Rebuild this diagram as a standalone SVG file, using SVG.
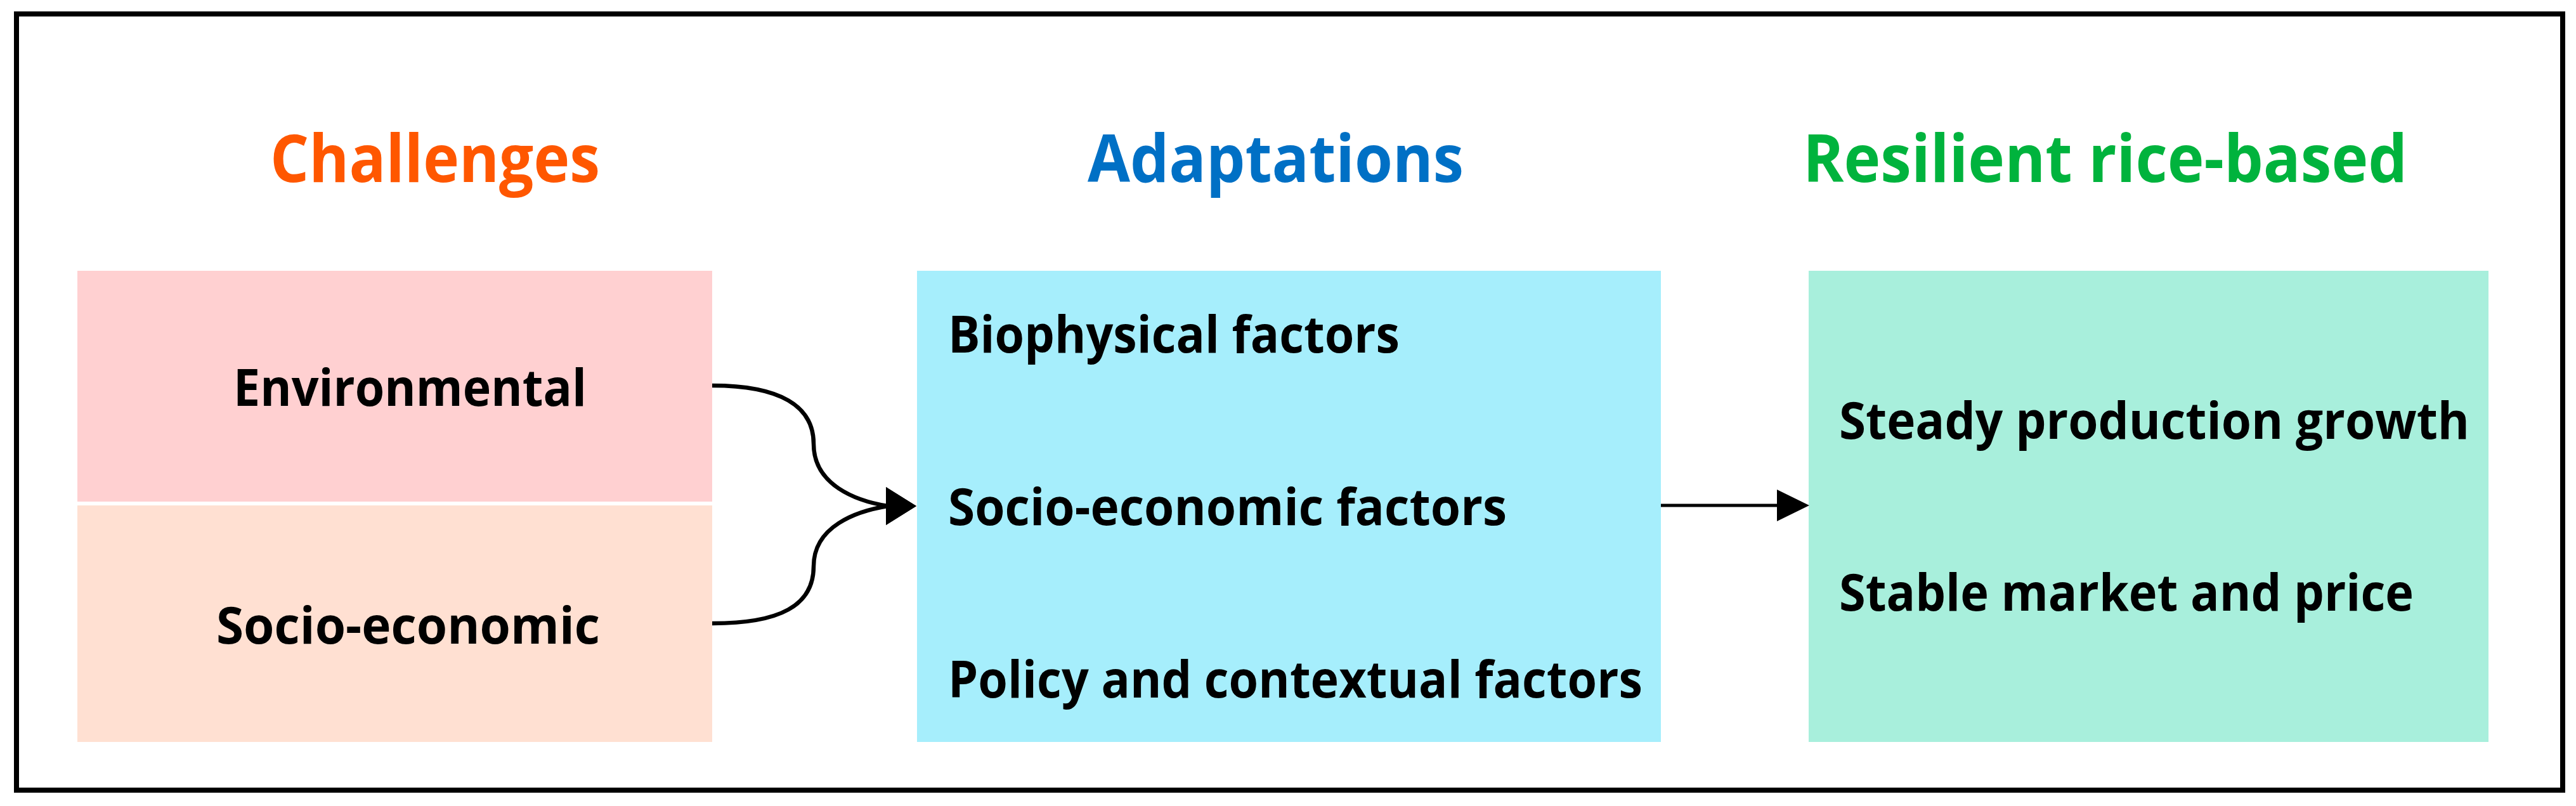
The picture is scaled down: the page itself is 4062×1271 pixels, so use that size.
<svg xmlns="http://www.w3.org/2000/svg" width="4062" height="1271" viewBox="0 0 4062 1271">
<style>
  .frame { fill: #ffffff; stroke: #000000; stroke-width: 8; }
  .title { font-family: "Open Sans", "Noto Sans", "Liberation Sans", sans-serif; font-weight: bold; font-size: 104px; }
  .label { font-family: "Open Sans", "Noto Sans", "Liberation Sans", sans-serif; font-weight: bold; font-size: 80px; fill: #000000; }
  .conn { fill: none; stroke: #000000; stroke-width: 5; }
  .curve { stroke-width: 6.5; }
</style>
<defs>
  <marker id="headCurve" markerUnits="userSpaceOnUse" markerWidth="50" markerHeight="62" refX="3" refY="31" orient="0" viewBox="0 0 50 62">
    <path d="M0,1 L48,31 L0,61 Z" fill="#000000"/>
  </marker>
  <marker id="headLine" markerUnits="userSpaceOnUse" markerWidth="52" markerHeight="52" refX="3" refY="26" orient="auto" viewBox="0 0 52 52">
    <path d="M0,1 L51,26 L0,51 Z" fill="#000000"/>
  </marker>
</defs>
<rect class="frame" x="26" y="22" width="4015" height="1224"/>

<g id="title-challenges">
  <text class="title" x="426" y="287" fill="#FF5700" textLength="520" lengthAdjust="spacingAndGlyphs">Challenges</text>
</g>
<g id="title-adaptations">
  <text class="title" x="1715" y="287" fill="#0070C5" textLength="593" lengthAdjust="spacingAndGlyphs">Adaptations</text>
</g>
<g id="title-resilient">
  <text class="title" x="2843" y="287" fill="#00B33D" textLength="953" lengthAdjust="spacingAndGlyphs">Resilient rice-based</text>
</g>

<g id="node-environmental">
  <rect x="122" y="427" width="1001" height="364" fill="#FFD0D1"/>
  <text class="label" x="368" y="640" textLength="557" lengthAdjust="spacingAndGlyphs">Environmental</text>
</g>
<g id="node-socioeconomic">
  <rect x="122" y="797" width="1001" height="373" fill="#FFE0D2"/>
  <text class="label" x="341" y="1015" textLength="605" lengthAdjust="spacingAndGlyphs">Socio-economic</text>
</g>
<g id="node-adaptations">
  <rect x="1446" y="427" width="1173" height="743" fill="#A6EEFC"/>
  <text class="label" x="1495" y="556" textLength="712" lengthAdjust="spacingAndGlyphs">Biophysical factors</text>
  <text class="label" x="1495" y="828" textLength="881" lengthAdjust="spacingAndGlyphs">Socio-economic factors</text>
  <text class="label" x="1495" y="1100" textLength="1095" lengthAdjust="spacingAndGlyphs">Policy and contextual factors</text>
</g>
<g id="node-resilient">
  <rect x="2852" y="427" width="1072" height="743" fill="#A8EFDC"/>
  <text class="label" x="2900" y="692" textLength="994" lengthAdjust="spacingAndGlyphs">Steady production growth</text>
  <text class="label" x="2900" y="963" textLength="906" lengthAdjust="spacingAndGlyphs">Stable market and price</text>
</g>

<g id="connectors">
  <path class="conn curve" d="M1123,608 C1230,608 1283,640 1283,700 C1283,765 1350,790 1400,798" marker-end="url(#headCurve)"/>
  <path class="conn curve" d="M1123,983 C1230,983 1283,955 1283,893 C1283,830 1350,806 1400,798" marker-end="url(#headCurve)"/>
  <path class="conn" d="M2619,797 L2805,797" marker-end="url(#headLine)"/>
</g>
</svg>
